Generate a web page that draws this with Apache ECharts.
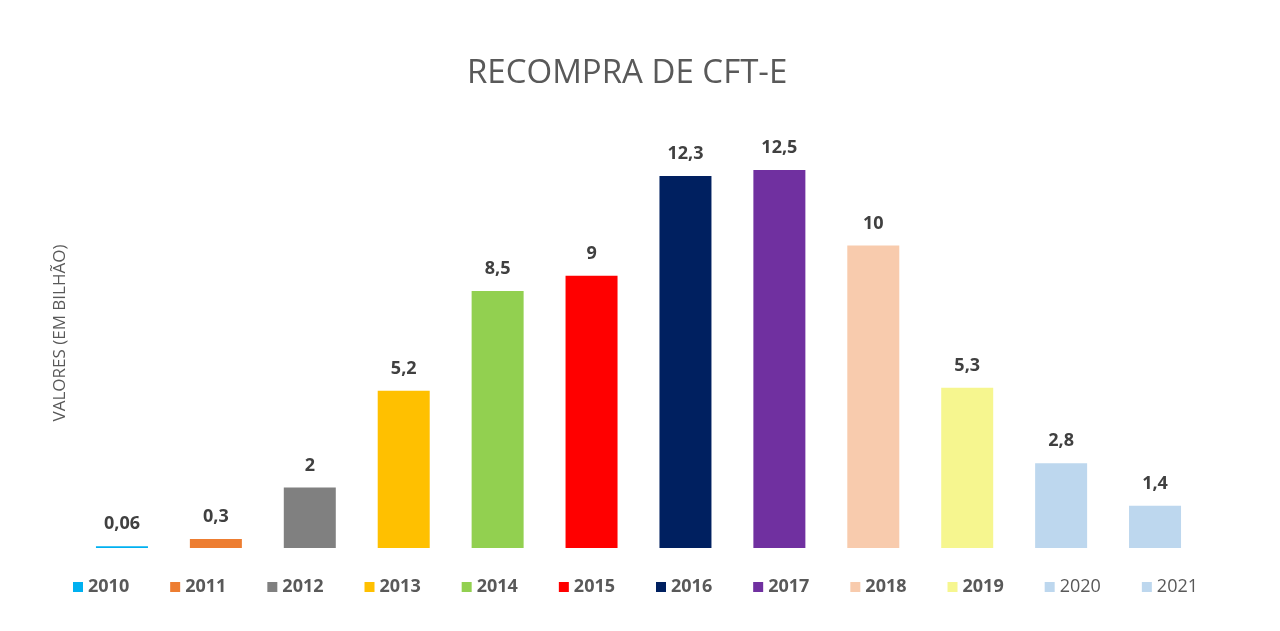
<!DOCTYPE html>
<html>
<head>
<meta charset="utf-8">
<script src="https://cdn.jsdelivr.net/npm/echarts@6/dist/echarts.min.js"></script>
<style>
  html, body { margin: 0; padding: 0; background: #fff; }
  #chart { width: 1280px; height: 631px; }
</style>
</head>
<body>
<div id="chart"></div>
<script>
// chart data
const years = ['2010', '2011', '2012', '2013', '2014', '2015', '2016', '2017', '2018', '2019', '2020', '2021'];
const values = [0.06, 0.3, 2, 5.2, 8.5, 9, 12.3, 12.5, 10, 5.3, 2.8, 1.4];
const valueLabels = ['0,06', '0,3', '2', '5,2', '8,5', '9', '12,3', '12,5', '10', '5,3', '2,8', '1,4'];
const boldYears = ['2010', '2011', '2012', '2013', '2014', '2015', '2016', '2017', '2018', '2019'];

const chart = echarts.init(document.getElementById('chart'));

// one series per year so each gets its own legend entry and colour
const series = years.map((y, i) => ({
    name: y,
    type: 'bar',
    stack: 'all',
    barWidth: 52,
    data: years.map((_, j) => (j === i ? values[i] : '-')),
    label: {
        show: true,
        position: 'top',
        distance: 13,
        fontFamily: 'Open Sans',
        fontWeight: 'bold',
        fontSize: 18,
        color: '#404040',
        formatter: () => valueLabels[i]
    }
}));

const option = {
    color: ['#00B0F0', '#ED7D31', '#808080', '#FFC000', '#92D050', '#FF0000',
            '#002060', '#7030A0', '#F8CBAD', '#F6F68F', '#BDD7EE', '#BDD7EE'],
    animation: false,
    title: {
        text: 'RECOMPRA DE CFT-E',
        left: 462,
        top: 52,
        textStyle: { fontFamily: 'Open Sans', fontWeight: 'normal', fontSize: 33, color: '#595959' }
    },
    legend: {
        data: years.map(y => ({
            name: y,
            textStyle: { fontWeight: boldYears.includes(y) ? 'bold' : 'normal' }
        })),
        left: 68,
        top: 573,
        icon: 'rect',
        itemWidth: 10,
        itemHeight: 10,
        itemGap: 41,
        textStyle: { fontFamily: 'Open Sans', fontSize: 18, color: '#595959' }
    },
    grid: { left: 75, right: 78, top: 170, bottom: 83 },
    xAxis: {
        type: 'category',
        data: years,
        axisLine: { show: false },
        axisTick: { show: false },
        axisLabel: { show: false }
    },
    yAxis: {
        type: 'value',
        min: 0,
        max: 12.5,
        axisLine: { show: false },
        axisTick: { show: false },
        axisLabel: { show: false },
        splitLine: { show: false }
    },
    // vertical axis title, placed like the original (a bit above the plot middle)
    graphic: [{
        type: 'text',
        x: 60,
        y: 333,
        rotation: Math.PI / 2,
        style: {
            text: 'VALORES (EM BILHÃO)',
            fontFamily: 'Open Sans',
            fontSize: 17,
            fill: '#595959',
            align: 'center',
            verticalAlign: 'middle'
        }
    }],
    series: series
};

chart.setOption(option);
</script>
</body>
</html>
